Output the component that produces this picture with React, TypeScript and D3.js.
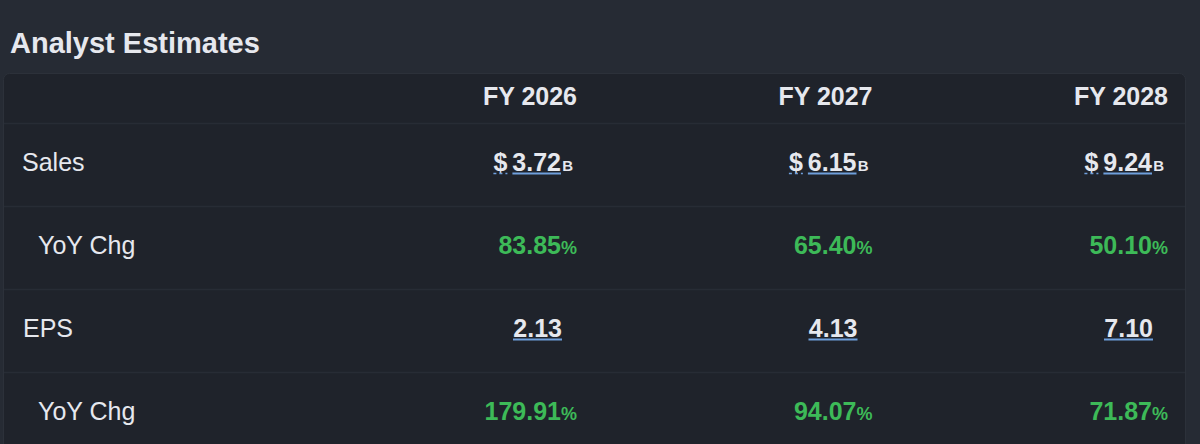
import React from "react";
import * as d3 from "d3";

const years = ["FY 2026", "FY 2027", "FY 2028"];
const rowLabels = ["Sales", "YoY Chg", "EPS", "YoY Chg"];
const salesB = [3.72, 6.15, 9.24];
const salesYoY = [83.85, 65.4, 50.1];
const eps = [2.13, 4.13, 7.1];
const epsYoY = [179.91, 94.07, 71.87];

const W = 1200;
const H = 444;
const FONT = "'Liberation Sans', Arial, Helvetica, sans-serif";
const WHITE = "#e6e8ee";
const GREEN = "#3dba58";
const BLUE = "#6f9fdc";
const FS = 25;

export default function App() {
  const x = d3.scalePoint<string>().domain(years).range([577, 1168]);
  const y = d3
    .scaleBand<number>()
    .domain(d3.range(rowLabels.length))
    .range([123, 123 + 83 * rowLabels.length])
    .paddingInner(0);
  const rowIndent = [22, 38, 23, 38];
  const base = (i: number) => (y(i) as number) + 48;
  const fmt = d3.format(".2f");

  const pct = (values: number[], row: number) =>
    values.map((v, j) => (
      <text
        key={`p${row}-${j}`}
        x={x(years[j])}
        y={base(row)}
        textAnchor="end"
        fontFamily={FONT}
        fontWeight={700}
        fill={GREEN}
        fontSize={FS}
      >
        {fmt(v)}
        <tspan fontSize={18}>%</tspan>
      </text>
    ));

  return (
    <svg
      width={W}
      height={H}
      style={{ position: "absolute", left: 0, top: 0, display: "block" }}
    >
      <rect x={0} y={0} width={W} height={H} fill="#262b34" />
      <text x={10} y={53} fontFamily={FONT} fontWeight={700} fontSize={29} fill={WHITE}>
        Analyst Estimates
      </text>
      <rect
        x={3.5}
        y={73.5}
        width={1182}
        height={H + 20}
        rx={6}
        fill="#1f232b"
        stroke="#2c313a"
        strokeWidth={1}
      />
      {d3.range(rowLabels.length).map((i) => (
        <line
          key={`sep${i}`}
          x1={4}
          x2={1185}
          y1={(y(i) as number) + 0.5}
          y2={(y(i) as number) + 0.5}
          stroke="#272c35"
          strokeWidth={1.5}
        />
      ))}
      {years.map((yr) => (
        <text
          key={yr}
          x={x(yr)}
          y={105}
          textAnchor="end"
          fontFamily={FONT}
          fontWeight={700}
          fontSize={FS}
          fill={WHITE}
        >
          {yr}
        </text>
      ))}
      {rowLabels.map((lab, i) => (
        <text
          key={`l${i}`}
          x={rowIndent[i]}
          y={base(i)}
          fontFamily={FONT}
          fontSize={FS}
          fill={WHITE}
        >
          {lab}
        </text>
      ))}
      {salesB.map((v, j) => {
        const right = (x(years[j]) as number) - 4;
        const bW = 11;
        const numRight = right - bW - 1;
        const numW = 48.6;
        const numX = numRight - numW;
        const b = base(0);
        return (
          <g key={`s${j}`}>
            <text x={numX - 5} y={b} textAnchor="end" fontFamily={FONT} fontWeight={700} fontSize={FS} fill={WHITE}>
              $
            </text>
            <line x1={numX - 19} x2={numX - 5} y1={b + 2.5} y2={b + 2.5} stroke={BLUE} strokeWidth={1.5} strokeDasharray="3,3" />
            <text x={numRight} y={b} textAnchor="end" fontFamily={FONT} fontWeight={700} fontSize={FS} fill={WHITE}>
              {fmt(v)}
            </text>
            <line x1={numX} x2={numRight} y1={b + 2.5} y2={b + 2.5} stroke={BLUE} strokeWidth={2} />
            <text x={right} y={b} textAnchor="end" fontFamily={FONT} fontWeight={700} fontSize={15} fill={WHITE}>
              B
            </text>
          </g>
        );
      })}
      {pct(salesYoY, 1)}
      {eps.map((v, j) => {
        const right = (x(years[j]) as number) - 15;
        const b = base(2);
        return (
          <g key={`e${j}`}>
            <text x={right} y={b} textAnchor="end" fontFamily={FONT} fontWeight={700} fontSize={FS} fill={WHITE}>
              {fmt(v)}
            </text>
            <line x1={right - 49} x2={right} y1={b + 2.5} y2={b + 2.5} stroke={BLUE} strokeWidth={2} />
          </g>
        );
      })}
      {pct(epsYoY, 3)}
    </svg>
  );
}
